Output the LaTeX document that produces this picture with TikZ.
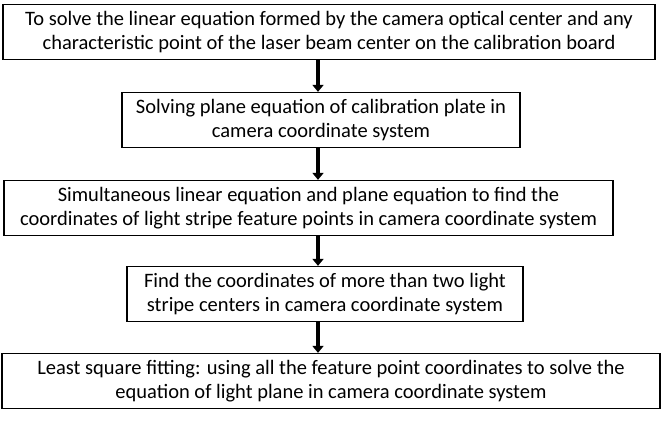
\documentclass[tikz,border=0pt]{standalone}
\usepackage{fontspec}
\setmainfont{Carlito}
\usetikzlibrary{arrows.meta}
\begin{document}
\begin{tikzpicture}[x=1pt,y=-1pt,
  box/.style={draw,line width=1.3pt,align=center,inner sep=0pt,font=\fontsize{20.5}{24}\selectfont},
  arr/.style={line width=4pt,-{Triangle[width=11pt,length=7pt]}}]
\useasboundingbox (0,0) rectangle (663,420);
\node[box,minimum width=652pt,minimum height=55pt] (a) at (329,32) {To solve the linear equation formed by the camera optical center and any\\characteristic point of the laser beam center on the calibration board};
\node[box,minimum width=398pt,minimum height=55pt] (b) at (321,120) {Solving plane equation of calibration plate in\\camera coordinate system};
\node[box,minimum width=609pt,minimum height=55pt] (c) at (308.5,208) {Simultaneous linear equation and plane equation to find the\\coordinates of light stripe feature points in camera coordinate system};
\node[box,minimum width=396pt,minimum height=55pt] (d) at (325,294) {Find the coordinates of more than two light\\stripe centers in camera coordinate system};
\node[box,minimum width=658pt,minimum height=55pt] (e) at (331,381) {Least square fitting: using all the feature point coordinates to solve the\\equation of light plane in camera coordinate system};
\draw[arr] (a.south -| 318,0) -- (b.north -| 318,0);
\draw[arr] (b.south -| 318,0) -- (c.north -| 318,0);
\draw[arr] (c.south -| 318,0) -- (d.north -| 318,0);
\draw[arr] (d.south -| 318,0) -- (e.north -| 318,0);
\end{tikzpicture}
\end{document}
